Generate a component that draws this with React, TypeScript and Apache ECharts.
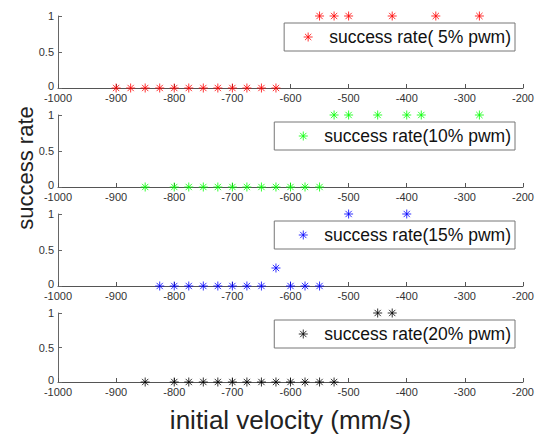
import React, { useEffect, useRef } from "react";
import * as echarts from "echarts";

const xRed0 = [-900, -875, -850, -825, -800, -775, -750, -725, -700, -675, -650, -625];
const xRed1 = [-550, -525, -500, -425, -350, -275];
const xGreen0 = [-850, -800, -775, -750, -725, -700, -675, -650, -625, -600, -575, -550];
const xGreen1 = [-525, -500, -450, -400, -375, -275];
const xBlue0 = [-825, -800, -775, -750, -725, -700, -675, -650, -600, -575, -550];
const xBluePartial = [-625];
const yBluePartial = [0.25];
const xBlue1 = [-500, -400];
const xBlack0 = [-850, -800, -775, -750, -725, -700, -675, -650, -625, -600, -575, -550, -525];
const xBlack1 = [-450, -425];

const seriesNames = [
  "success rate( 5% pwm)",
  "success rate(10% pwm)",
  "success rate(15% pwm)",
  "success rate(20% pwm)",
];
const seriesColors = ["#ff0000", "#00ff00", "#0000ff", "#000000"];

const yTicks = [0, 0.5, 1];
const xMin = -1000;
const xMax = -200;
const xInterval = 100;

const ASTERISK =
  "path://M0,-10 L0,10 M-10,0 L10,0 M-7,-7 L7,7 M-7,7 L7,-7";

const FONT = "Liberation Sans, Arial, Helvetica, sans-serif";

export default function App() {
  const ref = useRef<HTMLDivElement>(null);

  useEffect(() => {
    if (!ref.current) return;
    const chart = echarts.init(ref.current, null, { renderer: "svg" });

    const pts = (xs: number[], y: number) => xs.map((x) => [x, y]);
    const dataSets = [
      [...pts(xRed0, 0), ...pts(xRed1, 1)],
      [...pts(xGreen0, 0), ...pts(xGreen1, 1)],
      [
        ...pts(xBlue0, 0),
        ...xBluePartial.map((x, i) => [x, yBluePartial[i]]),
        ...pts(xBlue1, 1),
      ],
      [...pts(xBlack0, 0), ...pts(xBlack1, 1)],
    ];

    const tops = [16, 115, 214, 313];
    const heights = [72, 72, 72, 71];
    const legendTops = [23, 122, 221, 320];
    const legendPadLeft = [19, 24, 24, 24];

    const grid = tops.map((t, i) => ({
      left: 58,
      width: 468,
      top: t,
      height: heights[i],
      containLabel: false,
    }));

    const xAxis = tops.map((_, i) => ({
      type: "value",
      gridIndex: i,
      min: xMin,
      max: xMax,
      interval: xInterval,
      axisLine: { show: true, lineStyle: { color: "#555", width: 1 } },
      axisTick: { show: true, inside: true, length: 4, lineStyle: { color: "#555" } },
      axisLabel: {
        color: "#333",
        fontSize: 11,
        fontFamily: FONT,
        margin: 4,
        hideOverlap: false,
        formatter: (v: number) => String(v),
      },
      splitLine: { show: false },
      ...(i === 3
        ? {
            name: "initial velocity (mm/s)",
            nameLocation: "middle",
            nameGap: 25,
            nameTextStyle: { fontSize: 26, color: "#222", fontFamily: FONT },
          }
        : {}),
    }));

    const yAxis = tops.map((_, i) => ({
      type: "value",
      gridIndex: i,
      min: 0,
      max: 1,
      interval: 0.5,
      axisLine: { show: true, lineStyle: { color: "#666", width: 1 } },
      axisTick: { show: true, inside: true, length: 4, lineStyle: { color: "#666" } },
      axisLabel: {
        color: "#333",
        fontSize: 11,
        fontFamily: FONT,
        margin: 4,
        formatter: (v: number) =>
          yTicks.includes(v) ? (v === 0 ? "{z|0}" : String(v)) : "",
        rich: {
          z: { fontSize: 11, color: "#333", fontFamily: FONT, padding: [0, 0, 5, 0] },
        },
      },
      splitLine: { show: false },
    }));

    const series = dataSets.map((d, i) => ({
      type: "scatter",
      name: seriesNames[i],
      xAxisIndex: i,
      yAxisIndex: i,
      data: d,
      symbol: ASTERISK,
      symbolSize: 9,
      clip: false,
      itemStyle: {
        color: seriesColors[i],
        borderColor: seriesColors[i],
        borderWidth: 1,
      },
    }));

    const legend = tops.map((_, i) => ({
      data: [seriesNames[i]],
      right: 22,
      top: legendTops[i],
      orient: "horizontal",
      padding: [5, 4, 5, legendPadLeft[i]],
      itemWidth: 32,
      itemHeight: 9,
      icon: ASTERISK,
      symbolKeepAspect: true,
      backgroundColor: "#fff",
      borderColor: "#777",
      borderWidth: 1,
      borderRadius: 0,
      selectedMode: false,
      itemStyle: {
        color: seriesColors[i],
        borderColor: seriesColors[i],
        borderWidth: 1,
      },
      textStyle: { fontSize: 17.5, color: "#111", fontFamily: FONT },
    }));

    chart.setOption({
      animation: false,
      backgroundColor: "#fff",
      grid,
      xAxis,
      yAxis,
      series,
      legend,
      graphic: [
        {
          type: "text",
          x: 25,
          y: 168,
          rotation: Math.PI / 2,
          style: {
            text: "success rate",
            fontSize: 22,
            fontFamily: FONT,
            fill: "#222",
            align: "center",
            verticalAlign: "middle",
          },
        },
      ],
    });

    return () => chart.dispose();
  }, []);

  return (
    <div
      ref={ref}
      style={{ width: 537, height: 434, position: "absolute", left: 0, top: 0 }}
    />
  );
}
